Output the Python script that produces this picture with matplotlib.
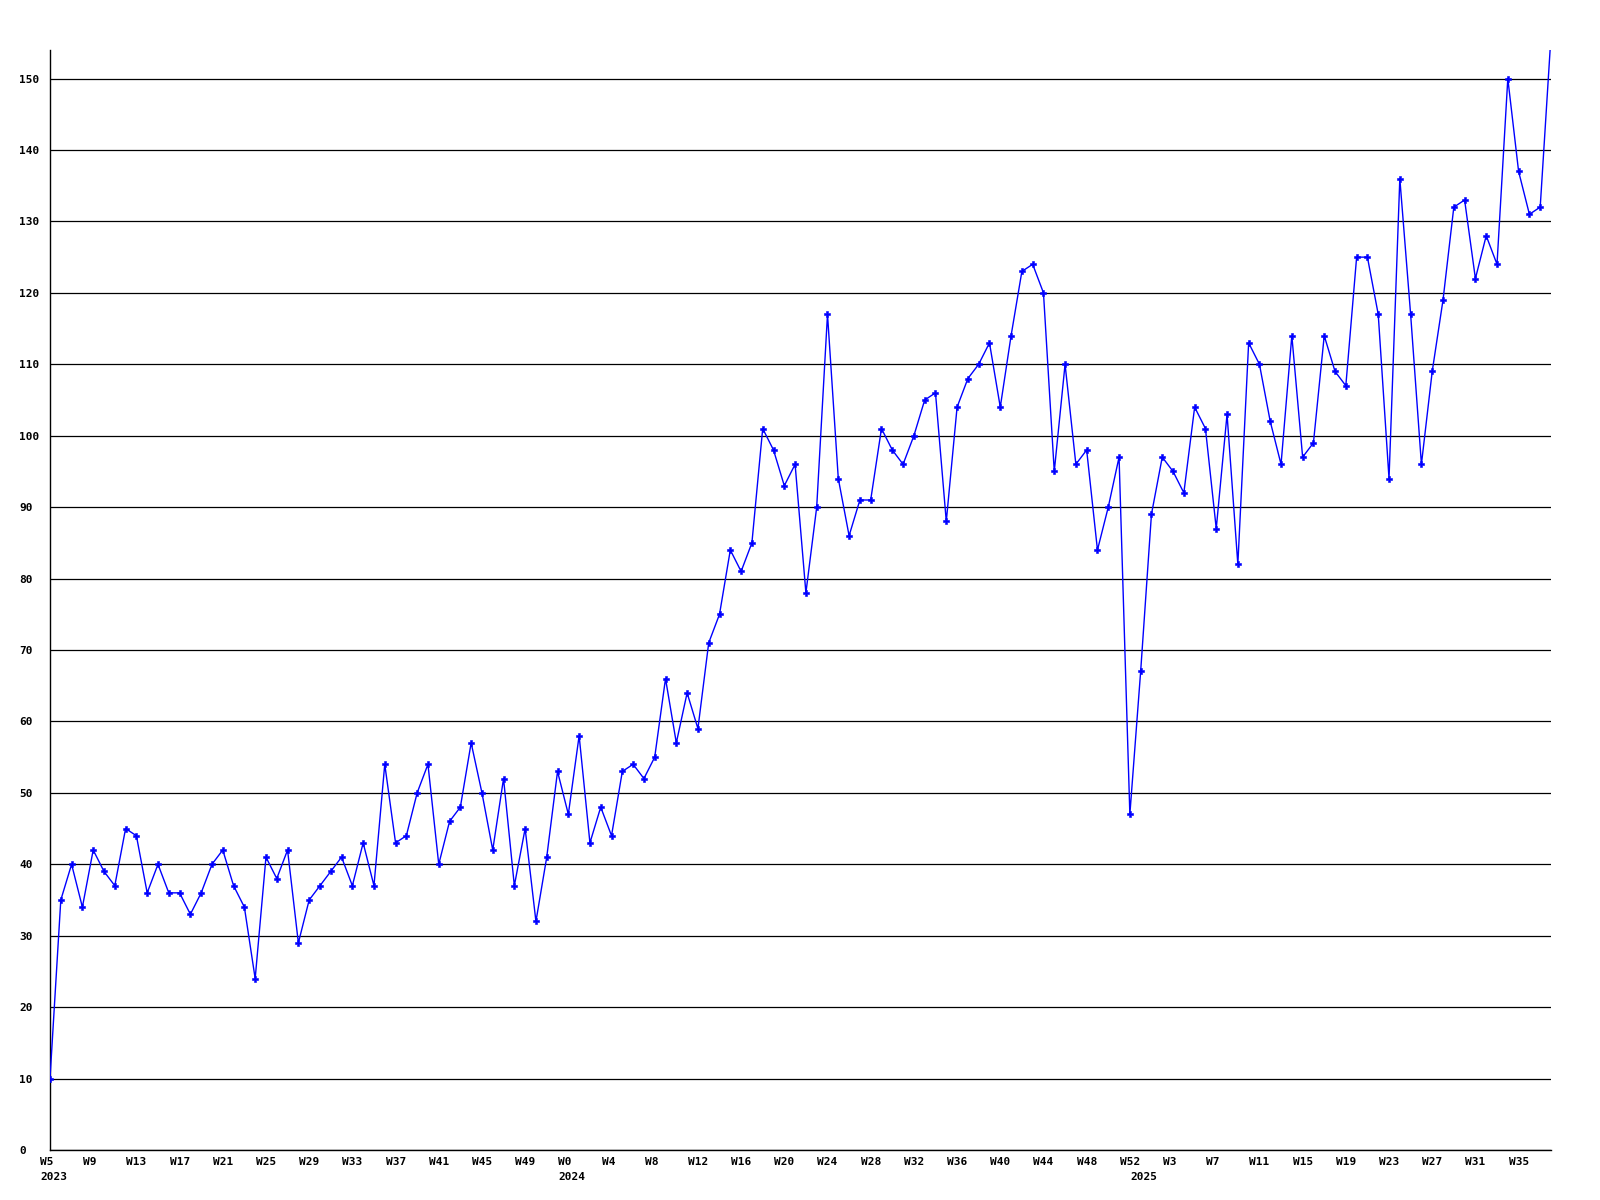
import matplotlib
matplotlib.use("Agg")
import matplotlib.pyplot as plt
from matplotlib.transforms import ScaledTranslation

# weekly counts, 2023 W5 .. 2025 W38
values = [10, 35, 40, 34, 42, 39, 37, 45, 44, 36,
          40, 36, 36, 33, 36, 40, 42, 37, 34, 24,
          41, 38, 42, 29, 35, 37, 39, 41, 37, 43,
          37, 54, 43, 44, 50, 54, 40, 46, 48, 57,
          50, 42, 52, 37, 45, 32, 41, 53, 47, 58,
          43, 48, 44, 53, 54, 52, 55, 66, 57, 64,
          59, 71, 75, 84, 81, 85, 101, 98, 93, 96,
          78, 90, 117, 94, 86, 91, 91, 101, 98, 96,
          100, 105, 106, 88, 104, 108, 110, 113, 104, 114,
          123, 124, 120, 95, 110, 96, 98, 84, 90, 97,
          47, 67, 89, 97, 95, 92, 104, 101, 87, 103,
          82, 113, 110, 102, 96, 114, 97, 99, 114, 109,
          107, 125, 125, 117, 94, 136, 117, 96, 109, 119,
          132, 133, 122, 128, 124, 150, 137, 131, 132, 156]

week_labels = ["W5", "W9", "W13", "W17", "W21", "W25", "W29", "W33", "W37",
               "W41", "W45", "W49", "W0", "W4", "W8", "W12", "W16", "W20",
               "W24", "W28", "W32", "W36", "W40", "W44", "W48", "W52", "W3",
               "W7", "W11", "W15", "W19", "W23", "W27", "W31", "W35"]
year_labels = ["2023", "2024", "2025"]
year_starts = [0, 48, 101]

x = list(range(len(values)))

fig = plt.figure(figsize=(16, 12), dpi=100)
ax = fig.add_axes([50 / 1600, 50 / 1200, 1501 / 1600, 1100 / 1200])

ax.plot(x, values, color="#0000ff", linewidth=1.0, marker="P",
        markersize=4.5, markeredgewidth=0.4, zorder=3)

ax.set_xlim(0, len(values) - 1)
ax.set_ylim(0, 154)
ax.set_yticks(range(0, 151, 10))
ax.grid(axis="y", color="black", linewidth=0.9)
ax.set_axisbelow(True)

for s in ["top", "right"]:
    ax.spines[s].set_visible(False)
for s in ["left", "bottom"]:
    ax.spines[s].set_color("black")
    ax.spines[s].set_linewidth(1.0)

font = dict(family="DejaVu Sans Mono", weight="bold", size=8)

ax.xaxis.remove_overlapping_locs = False
ax.set_xticks(range(0, len(values), 4), week_labels, **font)
ax.set_xticks(year_starts, year_labels, minor=True, **font)
ax.tick_params(axis="x", which="major", length=0, pad=5)
ax.tick_params(axis="x", which="minor", length=0, pad=16)
ax.tick_params(axis="y", length=0, pad=22)
for lab in ax.get_yticklabels():
    lab.set(ha="left", **font)

shift = ScaledTranslation(-10 / 100, 0, fig.dpi_scale_trans)
for lab in ax.get_xticklabels() + ax.get_xticklabels(minor=True):
    lab.set_horizontalalignment("left")
    lab.set_transform(lab.get_transform() + shift)

fig.savefig("out.png", dpi=100, facecolor="white")
